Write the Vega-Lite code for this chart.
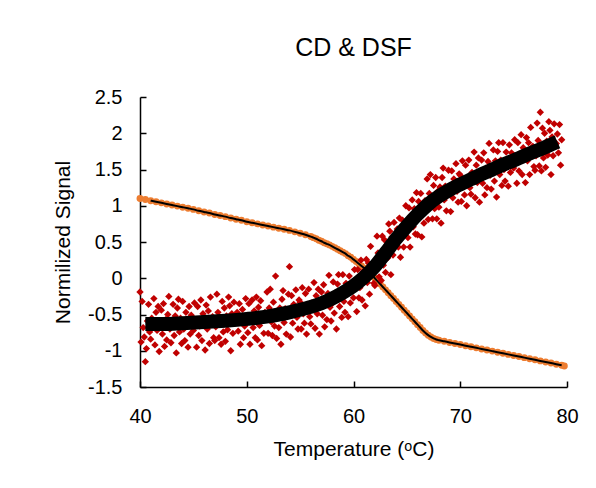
{
"$schema": "https://vega.github.io/schema/vega-lite/v6.json",
"width": 427,
"height": 290,
"autosize": {"type": "none"},
"padding": {"left": 140, "top": 97, "right": 29, "bottom": 101},
"background": "white",
"title": {"text": "CD & DSF", "fontSize": 25, "font": "Liberation Sans", "fontWeight": "normal", "color": "black", "anchor": "middle", "offset": 26},
"datasets": {
"cd": [
{"t":40,"v":1.10},{"t":40.5,"v":1.085},{"t":41,"v":1.07},{"t":41.5,"v":1.055},{"t":42,"v":1.04},{"t":42.5,"v":1.025},{"t":43,"v":1.01},{"t":43.5,"v":0.995},{"t":44,"v":0.98},{"t":44.5,"v":0.965},{"t":45,"v":0.95},{"t":45.5,"v":0.93},{"t":46,"v":0.915},{"t":46.5,"v":0.90},{"t":47,"v":0.88},{"t":47.5,"v":0.865},{"t":48,"v":0.85},{"t":48.5,"v":0.83},{"t":49,"v":0.815},{"t":49.5,"v":0.80},{"t":50,"v":0.78},{"t":50.5,"v":0.765},{"t":51,"v":0.75},{"t":51.5,"v":0.735},{"t":52,"v":0.72},{"t":52.5,"v":0.705},{"t":53,"v":0.69},{"t":53.5,"v":0.675},{"t":54,"v":0.66},{"t":54.5,"v":0.64},{"t":55,"v":0.62},{"t":55.5,"v":0.60},{"t":56,"v":0.575},{"t":56.25,"v":0.56},{"t":56.5,"v":0.545},{"t":56.75,"v":0.525},{"t":57,"v":0.51},{"t":57.25,"v":0.49},{"t":57.5,"v":0.475},{"t":57.75,"v":0.46},{"t":58,"v":0.44},{"t":58.25,"v":0.42},{"t":58.5,"v":0.40},{"t":58.75,"v":0.38},{"t":59,"v":0.36},{"t":59.25,"v":0.34},{"t":59.5,"v":0.31},{"t":59.75,"v":0.29},{"t":60,"v":0.26},{"t":60.25,"v":0.23},{"t":60.5,"v":0.20},{"t":60.75,"v":0.17},{"t":61,"v":0.14},{"t":61.25,"v":0.11},{"t":61.5,"v":0.07},{"t":61.75,"v":0.04},{"t":62,"v":0.00},{"t":62.25,"v":-0.04},{"t":62.5,"v":-0.08},{"t":62.75,"v":-0.12},{"t":63,"v":-0.16},{"t":63.25,"v":-0.20},{"t":63.5,"v":-0.24},{"t":63.75,"v":-0.28},{"t":64,"v":-0.32},{"t":64.25,"v":-0.36},{"t":64.5,"v":-0.40},{"t":64.75,"v":-0.44},{"t":65,"v":-0.48},{"t":65.25,"v":-0.52},{"t":65.5,"v":-0.56},{"t":65.75,"v":-0.60},{"t":66,"v":-0.64},{"t":66.25,"v":-0.68},{"t":66.5,"v":-0.72},{"t":66.75,"v":-0.755},{"t":67,"v":-0.785},{"t":67.25,"v":-0.81},{"t":67.5,"v":-0.83},{"t":67.75,"v":-0.845},{"t":68,"v":-0.855},{"t":68.5,"v":-0.87},{"t":69,"v":-0.885},{"t":69.5,"v":-0.90},{"t":70,"v":-0.915},{"t":70.5,"v":-0.93},{"t":71,"v":-0.945},{"t":71.5,"v":-0.96},{"t":72,"v":-0.975},{"t":72.5,"v":-0.99},{"t":73,"v":-1.005},{"t":73.5,"v":-1.02},{"t":74,"v":-1.035},{"t":74.5,"v":-1.05},{"t":75,"v":-1.065},{"t":75.5,"v":-1.08},{"t":76,"v":-1.095},{"t":76.5,"v":-1.11},{"t":77,"v":-1.125},{"t":77.5,"v":-1.14},{"t":78,"v":-1.155},{"t":78.5,"v":-1.17},{"t":79,"v":-1.185},{"t":79.5,"v":-1.20},{"t":79.75,"v":-1.21}
],
"dsffit": [
{"t":40.5,"v":-0.63},{"t":42,"v":-0.63},{"t":44,"v":-0.62},{"t":46,"v":-0.605},{"t":48,"v":-0.585},{"t":50,"v":-0.56},{"t":51,"v":-0.545},{"t":52,"v":-0.525},{"t":53,"v":-0.50},{"t":54,"v":-0.47},{"t":55,"v":-0.435},{"t":56,"v":-0.395},{"t":57,"v":-0.345},{"t":58,"v":-0.28},{"t":59,"v":-0.20},{"t":60,"v":-0.105},{"t":61,"v":0.015},{"t":62,"v":0.165},{"t":63,"v":0.35},{"t":64,"v":0.545},{"t":65,"v":0.72},{"t":66,"v":0.88},{"t":67,"v":1.02},{"t":68,"v":1.13},{"t":69,"v":1.22},{"t":70,"v":1.295},{"t":71,"v":1.365},{"t":72,"v":1.435},{"t":73,"v":1.50},{"t":74,"v":1.565},{"t":75,"v":1.625},{"t":76,"v":1.69},{"t":77,"v":1.75},{"t":78,"v":1.81},{"t":79.1,"v":1.88}
],
"dsf": [
{"t":40.0,"v":-0.19},{"t":40.1,"v":-0.88},{"t":40.2,"v":-0.32},{"t":40.3,"v":-0.68},{"t":40.4,"v":-0.81},{"t":40.5,"v":-1.15},{"t":40.6,"v":-0.97},{"t":40.7,"v":-0.59},{"t":40.8,"v":-0.36},{"t":40.9,"v":-0.74},
{"t":41.0,"v":-0.84},{"t":41.1,"v":-0.55},{"t":41.2,"v":-0.65},{"t":41.3,"v":-0.28},{"t":41.4,"v":-0.92},{"t":41.5,"v":-0.47},{"t":41.6,"v":-0.72},{"t":41.7,"v":-0.39},{"t":41.8,"v":-1.01},{"t":41.9,"v":-0.61},
{"t":42.0,"v":-0.44},{"t":42.1,"v":-0.77},{"t":42.2,"v":-0.35},{"t":42.3,"v":-0.94},{"t":42.4,"v":-0.57},{"t":42.5,"v":-0.85},{"t":42.6,"v":-0.50},{"t":42.7,"v":-0.25},{"t":42.8,"v":-0.70},{"t":42.9,"v":-0.89},
{"t":43.0,"v":-0.65},{"t":43.1,"v":-0.36},{"t":43.2,"v":-0.79},{"t":43.3,"v":-0.52},{"t":43.4,"v":-1.03},{"t":43.5,"v":-0.41},{"t":43.6,"v":-0.29},{"t":43.7,"v":-0.74},{"t":43.8,"v":-0.55},{"t":43.9,"v":-0.90},
{"t":44.0,"v":-0.32},{"t":44.1,"v":-0.70},{"t":44.2,"v":-0.86},{"t":44.3,"v":-0.47},{"t":44.4,"v":-0.60},{"t":44.5,"v":-0.95},{"t":44.6,"v":-0.39},{"t":44.7,"v":-0.77},{"t":44.8,"v":-0.51},{"t":44.9,"v":-0.63},
{"t":45.0,"v":-0.72},{"t":45.1,"v":-0.34},{"t":45.2,"v":-0.57},{"t":45.3,"v":-0.95},{"t":45.4,"v":-0.39},{"t":45.5,"v":-0.79},{"t":45.6,"v":-0.66},{"t":45.7,"v":-0.30},{"t":45.8,"v":-0.86},{"t":45.9,"v":-0.49},
{"t":46.0,"v":-0.59},{"t":46.1,"v":-0.99},{"t":46.2,"v":-0.37},{"t":46.3,"v":-0.70},{"t":46.4,"v":-0.45},{"t":46.5,"v":-0.90},{"t":46.6,"v":-0.26},{"t":46.7,"v":-0.63},{"t":46.8,"v":-0.53},{"t":46.9,"v":-0.82},
{"t":47.0,"v":-0.86},{"t":47.1,"v":-0.67},{"t":47.2,"v":-0.22},{"t":47.3,"v":-0.47},{"t":47.4,"v":-0.82},{"t":47.5,"v":-0.54},{"t":47.6,"v":-0.91},{"t":47.7,"v":-0.32},{"t":47.8,"v":-0.74},{"t":47.9,"v":-0.41},
{"t":48.0,"v":-0.87},{"t":48.1,"v":-0.52},{"t":48.2,"v":-0.71},{"t":48.3,"v":-0.26},{"t":48.4,"v":-0.38},{"t":48.5,"v":-1.00},{"t":48.6,"v":-0.49},{"t":48.7,"v":-0.76},{"t":48.8,"v":-0.33},{"t":48.9,"v":-0.62},
{"t":49.0,"v":-0.59},{"t":49.1,"v":-0.47},{"t":49.2,"v":-0.73},{"t":49.3,"v":-0.35},{"t":49.4,"v":-0.91},{"t":49.5,"v":-0.56},{"t":49.6,"v":-0.43},{"t":49.7,"v":-0.82},{"t":49.8,"v":-0.66},{"t":49.9,"v":-0.28},
{"t":50.0,"v":-0.62},{"t":50.1,"v":-0.75},{"t":50.2,"v":-0.35},{"t":50.3,"v":-0.91},{"t":50.4,"v":-0.53},{"t":50.5,"v":-0.30},{"t":50.6,"v":-0.68},{"t":50.7,"v":-0.45},{"t":50.8,"v":-0.82},{"t":50.9,"v":-0.26},
{"t":51.0,"v":-0.85},{"t":51.1,"v":-0.40},{"t":51.2,"v":-0.65},{"t":51.3,"v":-0.31},{"t":51.4,"v":-0.93},{"t":51.5,"v":-0.53},{"t":51.6,"v":-0.76},{"t":51.7,"v":-0.47},{"t":51.8,"v":-0.56},{"t":51.9,"v":-0.19},
{"t":52.0,"v":-0.76},{"t":52.1,"v":-0.41},{"t":52.2,"v":-0.15},{"t":52.3,"v":-0.60},{"t":52.4,"v":-0.79},{"t":52.5,"v":-0.33},{"t":52.6,"v":-0.66},{"t":52.7,"v":0.03},{"t":52.8,"v":-0.83},{"t":52.9,"v":-0.45},
{"t":53.0,"v":-0.68},{"t":53.1,"v":-0.41},{"t":53.2,"v":-0.91},{"t":53.3,"v":-0.29},{"t":53.4,"v":-0.17},{"t":53.5,"v":-0.61},{"t":53.6,"v":-0.42},{"t":53.7,"v":-0.77},{"t":53.8,"v":-0.52},{"t":53.9,"v":-0.22},
{"t":54.0,"v":0.16},{"t":54.1,"v":-0.81},{"t":54.2,"v":-0.24},{"t":54.3,"v":-0.62},{"t":54.4,"v":-0.36},{"t":54.5,"v":-0.47},{"t":54.6,"v":-0.16},{"t":54.7,"v":-0.54},{"t":54.8,"v":-0.70},{"t":54.9,"v":-0.30},
{"t":55.0,"v":-0.33},{"t":55.1,"v":-0.70},{"t":55.2,"v":-0.13},{"t":55.3,"v":-0.49},{"t":55.4,"v":-0.62},{"t":55.5,"v":-0.21},{"t":55.6,"v":-0.77},{"t":55.7,"v":-0.39},{"t":55.8,"v":-0.15},{"t":55.9,"v":-0.53},
{"t":56.0,"v":-0.63},{"t":56.1,"v":-0.34},{"t":56.2,"v":-0.43},{"t":56.3,"v":-0.06},{"t":56.4,"v":-0.69},{"t":56.5,"v":-0.24},{"t":56.6,"v":-0.49},{"t":56.7,"v":-0.15},{"t":56.8,"v":-0.77},{"t":56.9,"v":-0.36},
{"t":57.0,"v":-0.19},{"t":57.1,"v":-0.51},{"t":57.2,"v":-0.09},{"t":57.3,"v":-0.67},{"t":57.4,"v":-0.30},{"t":57.5,"v":-0.57},{"t":57.6,"v":-0.21},{"t":57.7,"v":0.04},{"t":57.8,"v":-0.40},{"t":57.9,"v":-0.59},
{"t":58.0,"v":-0.35},{"t":58.1,"v":-0.05},{"t":58.2,"v":-0.48},{"t":58.3,"v":-0.20},{"t":58.4,"v":-0.70},{"t":58.5,"v":-0.08},{"t":58.6,"v":0.05},{"t":58.7,"v":-0.39},{"t":58.8,"v":-0.19},{"t":58.9,"v":-0.54},
{"t":59.0,"v":0.05},{"t":59.1,"v":-0.32},{"t":59.2,"v":-0.47},{"t":59.3,"v":-0.07},{"t":59.4,"v":-0.19},{"t":59.5,"v":-0.53},{"t":59.6,"v":0.03},{"t":59.7,"v":-0.34},{"t":59.8,"v":-0.07},{"t":59.9,"v":-0.17},
{"t":60.0,"v":-0.27},{"t":60.1,"v":0.12},{"t":60.2,"v":-0.09},{"t":60.3,"v":-0.46},{"t":60.4,"v":0.12},{"t":60.5,"v":-0.27},{"t":60.6,"v":-0.13},{"t":60.7,"v":0.25},{"t":60.8,"v":-0.30},{"t":60.9,"v":0.09},
{"t":61.0,"v":0.00},{"t":61.1,"v":-0.38},{"t":61.2,"v":0.26},{"t":61.3,"v":-0.06},{"t":61.4,"v":0.21},{"t":61.5,"v":-0.22},{"t":61.6,"v":0.44},{"t":61.7,"v":0.09},{"t":61.8,"v":0.20},{"t":61.9,"v":-0.07},
{"t":62.0,"v":-0.10},{"t":62.1,"v":0.11},{"t":62.2,"v":0.58},{"t":62.3,"v":0.35},{"t":62.4,"v":0.02},{"t":62.5,"v":0.32},{"t":62.6,"v":-0.03},{"t":62.7,"v":0.58},{"t":62.8,"v":0.18},{"t":62.9,"v":0.53},
{"t":63.0,"v":0.08},{"t":63.1,"v":0.45},{"t":63.2,"v":0.28},{"t":63.3,"v":0.75},{"t":63.4,"v":0.65},{"t":63.5,"v":0.05},{"t":63.6,"v":0.57},{"t":63.7,"v":0.32},{"t":63.8,"v":0.77},{"t":63.9,"v":0.50},
{"t":64.0,"v":0.54},{"t":64.1,"v":0.68},{"t":64.2,"v":0.43},{"t":64.3,"v":0.83},{"t":64.4,"v":0.29},{"t":64.5,"v":0.66},{"t":64.6,"v":0.80},{"t":64.7,"v":0.43},{"t":64.8,"v":0.61},{"t":64.9,"v":1.00},
{"t":65.0,"v":0.67},{"t":65.1,"v":0.56},{"t":65.2,"v":0.97},{"t":65.3,"v":0.43},{"t":65.4,"v":0.83},{"t":65.5,"v":1.08},{"t":65.6,"v":0.71},{"t":65.7,"v":0.96},{"t":65.8,"v":0.61},{"t":65.9,"v":1.18},
{"t":66.0,"v":0.60},{"t":66.1,"v":1.06},{"t":66.2,"v":0.83},{"t":66.3,"v":1.17},{"t":66.4,"v":0.57},{"t":66.5,"v":0.98},{"t":66.6,"v":0.76},{"t":66.7,"v":1.07},{"t":66.8,"v":0.98},{"t":66.9,"v":1.37},
{"t":67.0,"v":0.81},{"t":67.1,"v":1.17},{"t":67.2,"v":1.43},{"t":67.3,"v":1.00},{"t":67.4,"v":0.82},{"t":67.5,"v":1.28},{"t":67.6,"v":0.96},{"t":67.7,"v":1.39},{"t":67.8,"v":0.82},{"t":67.9,"v":1.20},
{"t":68.0,"v":0.98},{"t":68.1,"v":1.26},{"t":68.2,"v":0.76},{"t":68.3,"v":1.39},{"t":68.4,"v":1.52},{"t":68.5,"v":1.08},{"t":68.6,"v":1.27},{"t":68.7,"v":0.93},{"t":68.8,"v":1.19},{"t":68.9,"v":1.49},
{"t":69.0,"v":1.26},{"t":69.1,"v":0.92},{"t":69.2,"v":1.48},{"t":69.3,"v":1.11},{"t":69.4,"v":1.37},{"t":69.5,"v":1.26},{"t":69.6,"v":1.58},{"t":69.7,"v":1.20},{"t":69.8,"v":1.05},{"t":69.9,"v":1.44},
{"t":70.0,"v":1.42},{"t":70.1,"v":1.06},{"t":70.2,"v":1.62},{"t":70.3,"v":1.27},{"t":70.4,"v":1.15},{"t":70.5,"v":1.56},{"t":70.6,"v":1.00},{"t":70.7,"v":1.39},{"t":70.8,"v":1.63},{"t":70.9,"v":1.25},
{"t":71.0,"v":1.16},{"t":71.1,"v":1.46},{"t":71.2,"v":1.36},{"t":71.3,"v":1.74},{"t":71.4,"v":1.11},{"t":71.5,"v":1.56},{"t":71.6,"v":1.32},{"t":71.7,"v":1.66},{"t":71.8,"v":1.05},{"t":71.9,"v":1.45},
{"t":72.0,"v":1.63},{"t":72.1,"v":1.31},{"t":72.2,"v":1.73},{"t":72.3,"v":1.15},{"t":72.4,"v":1.52},{"t":72.5,"v":1.25},{"t":72.6,"v":1.61},{"t":72.7,"v":1.86},{"t":72.8,"v":1.42},{"t":72.9,"v":1.23},
{"t":73.0,"v":1.47},{"t":73.1,"v":1.77},{"t":73.2,"v":1.34},{"t":73.3,"v":1.62},{"t":73.4,"v":1.12},{"t":73.5,"v":1.75},{"t":73.6,"v":1.87},{"t":73.7,"v":1.43},{"t":73.8,"v":1.63},{"t":73.9,"v":1.28},
{"t":74.0,"v":1.87},{"t":74.1,"v":1.50},{"t":74.2,"v":1.34},{"t":74.3,"v":1.74},{"t":74.4,"v":1.61},{"t":74.5,"v":1.27},{"t":74.6,"v":1.84},{"t":74.7,"v":1.46},{"t":74.8,"v":1.73},{"t":74.9,"v":1.61},
{"t":75.0,"v":1.52},{"t":75.1,"v":1.91},{"t":75.2,"v":1.68},{"t":75.3,"v":1.31},{"t":75.4,"v":1.87},{"t":75.5,"v":1.48},{"t":75.6,"v":1.62},{"t":75.7,"v":1.98},{"t":75.8,"v":1.43},{"t":75.9,"v":1.80},
{"t":76.0,"v":1.71},{"t":76.1,"v":1.32},{"t":76.2,"v":1.94},{"t":76.3,"v":1.62},{"t":76.4,"v":1.87},{"t":76.5,"v":1.43},{"t":76.6,"v":2.08},{"t":76.7,"v":1.71},{"t":76.8,"v":1.82},{"t":76.9,"v":1.54},
{"t":77.0,"v":1.49},{"t":77.1,"v":1.69},{"t":77.2,"v":2.14},{"t":77.3,"v":1.90},{"t":77.4,"v":1.55},{"t":77.5,"v":2.29},{"t":77.6,"v":1.48},{"t":77.7,"v":2.07},{"t":77.8,"v":1.66},{"t":77.9,"v":2.00},
{"t":78.0,"v":1.53},{"t":78.1,"v":1.89},{"t":78.2,"v":1.70},{"t":78.3,"v":2.16},{"t":78.4,"v":2.04},{"t":78.5,"v":1.43},{"t":78.6,"v":1.95},{"t":78.7,"v":1.69},{"t":78.8,"v":2.13},{"t":78.9,"v":1.84},
{"t":79.0,"v":1.86},{"t":79.1,"v":1.99},{"t":79.2,"v":1.73},{"t":79.3,"v":2.12},{"t":79.4,"v":1.56},{"t":79.5,"v":1.91}
]
},
"encoding": {
"x": {"field": "t", "type": "quantitative", "scale": {"domain": [40, 80], "nice": false},
"axis": {"values": [40, 50, 60, 70, 80], "title": "Temperature (ᵒC)", "labelPadding": 25}},
"y": {"field": "v", "type": "quantitative", "scale": {"domain": [-1.5, 2.5], "nice": false},
"axis": {"values": [-1.5, -1, -0.5, 0, 0.5, 1, 1.5, 2, 2.5], "labelExpr": "datum.value", "title": "Normilized Signal", "labelPadding": 24, "titlePadding": 14}}
},
"layer": [
{"data": {"name": "cd"}, "mark": {"type": "circle", "size": 48, "color": "#ED7D31", "opacity": 1}},
{"data": {"name": "cd"}, "transform": [{"filter": "datum.t >= 40.75 && datum.t <= 79.5"}], "mark": {"type": "line", "color": "black", "strokeWidth": 2, "interpolate": "monotone"}},
{"data": {"name": "dsf"}, "mark": {"type": "point", "shape": "diamond", "filled": true, "size": 54, "color": "#C00000", "opacity": 1}},
{"data": {"name": "dsffit"}, "mark": {"type": "line", "color": "black", "strokeWidth": 14, "strokeCap": "butt", "interpolate": "monotone"}}
],
"config": {
"view": {"stroke": null},
"axis": {"grid": false, "domainColor": "black", "domainWidth": 1.5, "tickColor": "black", "tickWidth": 1.5, "tickSize": -6, "labelFlush": false,
"labelFont": "Liberation Sans", "labelFontSize": 20, "labelColor": "black", "labelPadding": 20,
"titleFont": "Liberation Sans", "titleFontSize": 21, "titleFontWeight": "normal", "titleColor": "black", "titlePadding": 12}
}
}
